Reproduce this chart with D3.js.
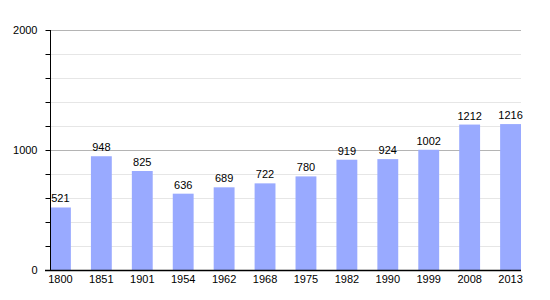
<!DOCTYPE html>
<html>
<head>
<meta charset="utf-8">
<script src="https://cdn.jsdelivr.net/npm/d3@7"></script>
<style>
 body { margin: 0; background: #fff; }
 text { font-family: "Liberation Sans", Arial, sans-serif; font-size: 11px; fill: #000; }
</style>
</head>
<body>
<svg id="chart" width="550" height="300"></svg>
<script>
var years = ["1800","1851","1901","1954","1962","1968","1975","1982","1990","1999","2008","2013"];
var population = [521, 948, 825, 636, 689, 722, 780, 919, 924, 1002, 1212, 1216];
var majorTicks = [0, 1000, 2000];
var minorTicks = [200, 400, 600, 800, 1200, 1400, 1600, 1800];

var svg = d3.select('#chart');
var mLeft = 50, mRight = 521, mTop = 30, mBottom = 270;

var x = d3.scaleBand().domain(years).range([mLeft, mRight])
    .paddingInner(0.49).paddingOuter(0).align(0);
var y = d3.scaleLinear().domain([0, 2000]).range([mBottom, mTop]);

// grid
svg.selectAll('.minor').data(minorTicks).enter().append('line')
   .attr('x1', mLeft).attr('x2', mRight)
   .attr('y1', d => y(d) + 0.5).attr('y2', d => y(d) + 0.5)
   .style('stroke', '#e6e6e6');
svg.selectAll('.major').data(majorTicks.slice(1)).enter().append('line')
   .attr('x1', mLeft).attr('x2', mRight)
   .attr('y1', d => y(d) + 0.5).attr('y2', d => y(d) + 0.5)
   .style('stroke', '#b4b4b4');

// bars
svg.selectAll('.bar').data(population).enter().append('rect')
   .attr('x', (d, i) => x(years[i]))
   .attr('y', d => y(d))
   .attr('width', x.bandwidth())
   .attr('height', d => y(0) - y(d))
   .style('fill', '#99aaff');

svg.selectAll('.val').data(population).enter().append('text')
   .attr('x', (d, i) => x(years[i]) + x.bandwidth() / 2)
   .attr('y', d => y(d) - 5)
   .attr('text-anchor', 'middle')
   .text(d => d);

// y axis
var yAxis = d3.axisLeft(y).tickValues(majorTicks.concat(minorTicks)).tickSize(5)
   .tickFormat(d => majorTicks.indexOf(d) >= 0 ? d : '');
var ga = svg.append('g').attr('transform', 'translate(' + (mLeft + 0.5) + ',0)').call(yAxis);
ga.select('.domain').remove();
ga.selectAll('.tick line').style('stroke', '#000');
ga.selectAll('.tick text').attr('x', -13).style('font-family', '"Liberation Sans", Arial, sans-serif').style('font-size', '11px');
svg.append('line').attr('x1', mLeft + 0.5).attr('x2', mLeft + 0.5).attr('y1', mTop).attr('y2', mBottom)
   .style('stroke', '#000');

// x axis
var xAxis = d3.axisBottom(x).tickSize(0).tickPadding(5);
var gx = svg.append('g').attr('transform', 'translate(0,' + (mBottom + 0.5) + ')').call(xAxis);
gx.select('.domain').remove();
gx.selectAll('.tick text').style('font-family', '"Liberation Sans", Arial, sans-serif').style('font-size', '11px');
svg.append('line').attr('x1', mLeft - 5).attr('x2', mRight).attr('y1', mBottom + 0.5).attr('y2', mBottom + 0.5)
   .style('stroke', '#000').style('stroke-width', 1.5);
</script>
</body>
</html>
